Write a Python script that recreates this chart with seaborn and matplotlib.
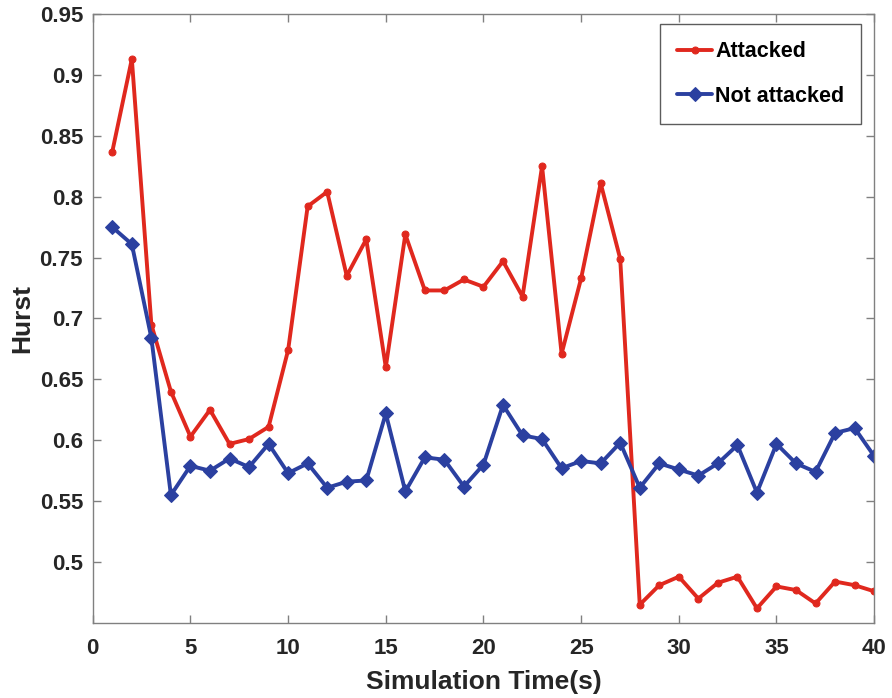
import numpy as np
import pandas as pd
import matplotlib
matplotlib.use("Agg")
import matplotlib.pyplot as plt
import seaborn as sns

time_s = list(range(1, 41))
attacked = [0.837, 0.913, 0.695, 0.640, 0.603, 0.625, 0.597, 0.601, 0.611, 0.674,
            0.792, 0.804, 0.735, 0.765, 0.660, 0.769, 0.723, 0.723, 0.732, 0.726,
            0.747, 0.718, 0.825, 0.671, 0.733, 0.811, 0.749, 0.465, 0.481, 0.488,
            0.470, 0.483, 0.488, 0.462, 0.480, 0.477, 0.466, 0.484, 0.481, 0.476]
not_attacked = [0.775, 0.761, 0.684, 0.555, 0.579, 0.575, 0.585, 0.578, 0.597, 0.573,
                0.581, 0.561, 0.566, 0.567, 0.622, 0.558, 0.586, 0.584, 0.562, 0.580,
                0.629, 0.604, 0.601, 0.577, 0.583, 0.581, 0.598, 0.561, 0.581, 0.576,
                0.571, 0.581, 0.596, 0.557, 0.597, 0.581, 0.574, 0.606, 0.610, 0.587]
series_names = ["Attacked", "Not attacked"]
x_ticks = [0, 5, 10, 15, 20, 25, 30, 35, 40]
y_ticks = [0.5, 0.55, 0.6, 0.65, 0.7, 0.75, 0.8, 0.85, 0.9, 0.95]
y_tick_labels = ["0.5", "0.55", "0.6", "0.65", "0.7", "0.75", "0.8", "0.85", "0.9", "0.95"]

df = pd.DataFrame({
    "Time": time_s * 2,
    "Hurst": attacked + not_attacked,
    "Series": [series_names[0]] * len(time_s) + [series_names[1]] * len(time_s),
})

sns.set_theme(style="white")
plt.rcParams["font.family"] = ["Liberation Sans", "DejaVu Sans"]
plt.rcParams["font.weight"] = "bold"

fig = plt.figure(figsize=(8.92, 6.98), dpi=100)
ax = fig.add_axes([0.104, 0.1075, 0.876, 0.8725])

palette = {"Attacked": "#E0281E", "Not attacked": "#2B40A0"}
markers = {"Attacked": "o", "Not attacked": "D"}
sizes_map = {"Attacked": 5, "Not attacked": 7}

for name in series_names:
    sub = df[df["Series"] == name]
    sns.lineplot(data=sub, x="Time", y="Hurst", ax=ax, color=palette[name],
                 marker=markers[name], markersize=sizes_map[name],
                 markeredgecolor=palette[name], linewidth=2.8, label=name)

ax.set_xlim(0, 40)
ax.set_ylim(0.45, 0.95)
ax.set_xticks(x_ticks)
ax.set_xticklabels([str(t) for t in x_ticks])
ax.set_yticks(y_ticks)
ax.set_yticklabels(y_tick_labels)
ax.tick_params(axis="both", direction="in", length=6, width=1, color="#808080",
               labelsize=16, top=True, right=True, bottom=True, left=True,
               labelcolor="#262626")
ax.tick_params(axis="x", pad=11)
ax.tick_params(axis="y", pad=7)
for lab in ax.get_xticklabels() + ax.get_yticklabels():
    lab.set_fontweight("bold")
for sp in ax.spines.values():
    sp.set_color("#808080")
    sp.set_linewidth(1.0)

ax.set_xlabel("Simulation Time(s)", fontsize=19, fontweight="bold", color="#262626", labelpad=8)
ax.set_ylabel("Hurst", fontsize=19, fontweight="bold", color="#262626", labelpad=4)

leg = ax.legend(loc="upper right", bbox_to_anchor=(0.992, 0.994), fontsize=15.5,
                frameon=True, fancybox=False, edgecolor="#333333", labelspacing=1.1,
                handlelength=1.6, borderpad=0.8, handletextpad=0.15, borderaxespad=0.3)
leg.get_frame().set_linewidth(1.0)
for t in leg.get_texts():
    t.set_fontweight("bold")
    t.set_color("black")

fig.savefig("out.png", dpi=100, facecolor="white")
